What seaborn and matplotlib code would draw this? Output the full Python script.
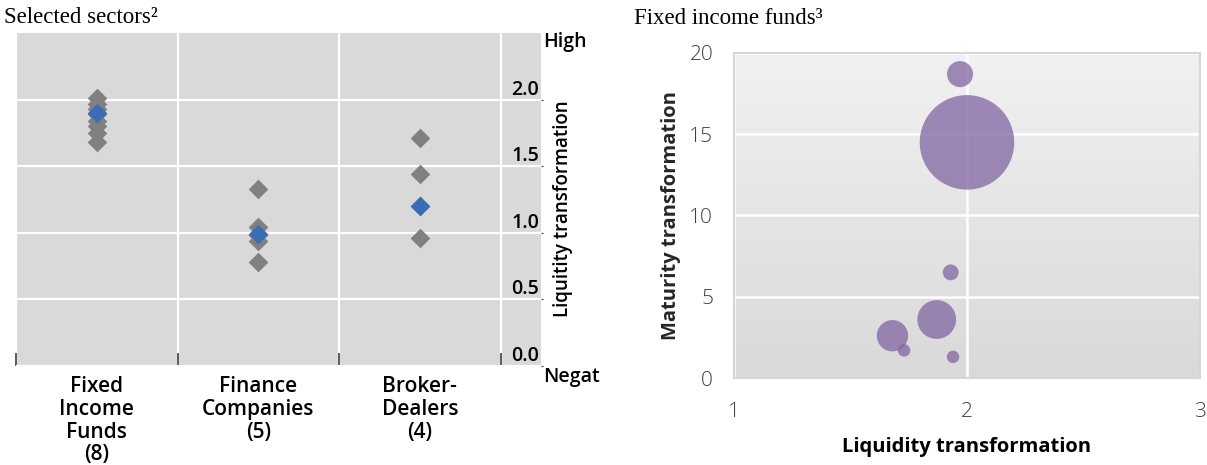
import numpy as np
import pandas as pd
import matplotlib
matplotlib.use("Agg")
import matplotlib.pyplot as plt
import seaborn as sns
from matplotlib.colors import LinearSegmentedColormap

# ---------------- data ----------------
# Left panel: liquidity transformation by sector
sectors = ["Fixed Income Funds", "Finance Companies", "Broker-Dealers"]
sector_labels = ["Fixed\nIncome\nFunds\n(8)", "Finance\nCompanies\n(5)", "Broker-\nDealers\n(4)"]
fif_values = [2.01, 1.97, 1.93, 1.89, 1.84, 1.80, 1.75, 1.68]
fin_values = [1.33, 1.04, 0.98, 0.94, 0.78]
bd_values = [1.71, 1.44, 1.20, 0.96]
sector_avg = [1.90, 0.99, 1.20]
left_yticks = [0.0, 0.5, 1.0, 1.5, 2.0]

# Right panel: fixed income funds
fund_liquidity = [1.97, 2.00, 1.93, 1.87, 1.68, 1.73, 1.94]
fund_maturity = [18.7, 14.5, 6.5, 3.6, 2.6, 1.7, 1.3]
fund_size = [35, 463, 13, 78, 51, 8, 8]
right_xticks = [1, 2, 3]
right_yticks = [0, 5, 10, 15, 20]

# ---------------- style ----------------
sns.set_style("white")
plt.rcParams["font.family"] = ["Open Sans", "DejaVu Sans"]

W, H = 1207, 465
fig = plt.figure(figsize=(W / 100, H / 100), dpi=100)

# ---------------- left panel ----------------
df_left = pd.DataFrame({
    "sector": [sectors[0]] * len(fif_values) + [sectors[1]] * len(fin_values) + [sectors[2]] * len(bd_values),
    "value": fif_values + fin_values + bd_values,
})
df_avg = pd.DataFrame({"sector": sectors, "avg": sector_avg})

ax1 = fig.add_axes([16 / W, (H - 366) / H, 525 / W, 333 / H])
ax1.set_facecolor("#D9D9D9")
sns.stripplot(data=df_left, x="sector", y="value", order=sectors, jitter=False,
              marker="D", color="#808080", size=10, linewidth=0, ax=ax1, zorder=3)
sns.stripplot(data=df_avg, x="sector", y="avg", order=sectors, jitter=False,
              marker="D", color="#3A6DB5", size=10, linewidth=0, ax=ax1, zorder=4)
ax1.set_xlim(-0.5, 2.75)
ax1.set_ylim(0, 2.5)
ax1.set_xlabel("")
for s in ax1.spines.values():
    s.set_visible(False)

ax1.set_xticks([0, 1, 2])
ax1.set_xticklabels(sector_labels, fontsize=15, fontweight="semibold", color="black",
                    linespacing=1.12)
ax1.set_xticks([-0.5, 0.5, 1.5, 2.5], minor=True)
ax1.tick_params(axis="x", which="major", length=0, pad=7)
ax1.tick_params(axis="x", which="minor", length=9.5, width=1.2, direction="in",
                color="#404040", bottom=True)

ax1.yaxis.tick_right()
ax1.set_yticks(left_yticks)
ax1.tick_params(axis="y", which="major", length=1.5, pad=-3, color="#404040")
ax1.set_yticklabels([f"{v:.1f}" for v in left_yticks], fontsize=14,
                    fontweight="semibold", color="black")
for tick in ax1.yaxis.get_major_ticks():
    tick.label2.set_horizontalalignment("right")
    tick.label2.set_verticalalignment("bottom")
ax1.set_axisbelow(True)
ax1.grid(axis="y", which="major", color="white", lw=1.6)
ax1.grid(axis="x", which="minor", color="white", lw=1.6)
ax1.grid(axis="x", which="major", visible=False)

ax1.yaxis.set_label_position("right")
ax1.set_ylabel("Liquitity transformation", fontsize=13.5, fontweight="semibold", color="black")
ax1.yaxis.label.set_va("center")
ax1.yaxis.set_label_coords(1.042, 0.471)

ax1.text(1.004, 0.973, "High", transform=ax1.transAxes, ha="left", va="center",
         fontsize=14, fontweight="semibold", color="black")
ax1.text(1.004, -0.033, "Negat", transform=ax1.transAxes, ha="left", va="center",
         fontsize=14, fontweight="semibold", color="black")

# ---------------- right panel ----------------
ax2 = fig.add_axes([734 / W, (H - 378) / H, 466 / W, 325 / H])
grad_cmap = LinearSegmentedColormap.from_list("bg", ["#D9D9D9", "#F1F1F1"])
ax2.imshow(np.linspace(0, 1, 256)[:, None], cmap=grad_cmap, origin="lower",
           extent=[0, 1, 0, 1], transform=ax2.transAxes, aspect="auto", zorder=0)

df_right = pd.DataFrame({"liq": fund_liquidity, "mat": fund_maturity, "size": fund_size})
sns.scatterplot(data=df_right, x="liq", y="mat", size="size", sizes=(0, 4630),
                size_norm=(0, 463), color="#8064A2", alpha=0.75, linewidth=0,
                legend=False, ax=ax2, zorder=3)
ax2.set_xlim(1, 3)
ax2.set_ylim(0, 20)
ax2.set_xticks(right_xticks)
ax2.set_yticks(right_yticks)
ax2.set_xticklabels([str(v) for v in right_xticks], fontsize=15, fontweight="light", color="#404040")
ax2.set_yticklabels([str(v) for v in right_yticks], fontsize=15, fontweight="light", color="#404040")
ax2.tick_params(axis="x", length=0, pad=17)
ax2.tick_params(axis="y", length=0, pad=15)
ax2.set_axisbelow(True)
ax2.grid(True, color="white", lw=1.8, zorder=1)
for s in ax2.spines.values():
    s.set_visible(True)
    s.set_color("#D6D6D6")
    s.set_linewidth(1.5)

ax2.set_xlabel("Liquidity transformation", fontsize=14.5, fontweight="bold", color="black")
ax2.xaxis.label.set_va("center")
ax2.xaxis.set_label_coords(0.5, -0.212)
ax2.set_ylabel("Maturity transformation", fontsize=14.5, fontweight="bold", color="#262626")
ax2.yaxis.label.set_va("center")
ax2.yaxis.set_label_coords(-0.135, 0.5)

# ---------------- titles ----------------
fig.text(4 / W, 1 - 23 / H, "Selected sectors\u00b2", family="Liberation Serif",
         fontsize=16.5, va="baseline", ha="left", color="black")
fig.text(634 / W, 1 - 24 / H, "Fixed income funds\u00b3", family="Liberation Serif",
         fontsize=16.5, va="baseline", ha="left", color="black")

fig.savefig("out.png", dpi=100)
